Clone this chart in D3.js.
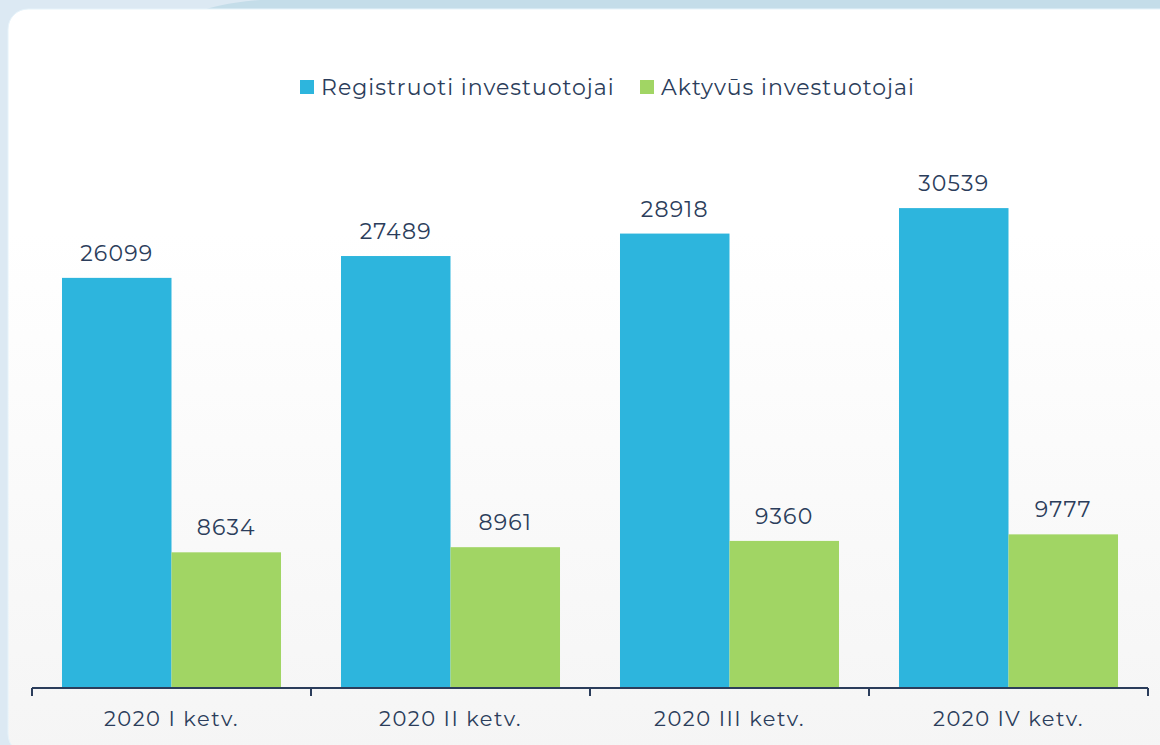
<!DOCTYPE html>
<html><head><meta charset="utf-8">
<script src="https://cdn.jsdelivr.net/npm/d3@7"></script>
<style>
html,body{margin:0;padding:0;background:#dce9f3;}
svg{display:block;font-family:Montserrat,"Open Sans",Lato,sans-serif;}
</style></head><body>
<svg id="chart" width="1160" height="745"></svg>
<script>
const categories = ["2020 I ketv.", "2020 II ketv.", "2020 III ketv.", "2020 IV ketv."];
const seriesNames = ["Registruoti investuotojai", "Aktyvūs investuotojai"];
const registered = [26099, 27489, 28918, 30539];
const active = [8634, 8961, 9360, 9777];
const colors = ["#2db5dd", "#a1d564"];

const svg = d3.select("#chart");
const W = 1160, H = 745;
const defs = svg.append("defs");
const g1 = defs.append("linearGradient").attr("id","card").attr("x1",0).attr("y1",0).attr("x2",0).attr("y2",1);
g1.append("stop").attr("offset","0%").attr("stop-color","#ffffff");
g1.append("stop").attr("offset","30%").attr("stop-color","#ffffff");
g1.append("stop").attr("offset","100%").attr("stop-color","#f5f5f5");

// background
svg.append("rect").attr("width",W).attr("height",H).attr("fill","#dce9f3");
svg.append("path").attr("d","M215,0 L1160,0 L1160,12 L200,12 Q215,4 260,0 Z").attr("fill","#c4dde9");
svg.append("rect").attr("x",8).attr("y",9).attr("width",1180).attr("height",745).attr("rx",20)
  .attr("fill","url(#card)").attr("stroke","#e6f3fa").attr("stroke-width",1);

const x0 = d3.scaleBand().domain(categories).range([32,1148]).paddingInner(0.215).paddingOuter(0.1075);
const xb = d3.scaleBand().domain(categories).range([32,1148]).padding(0);
const x1 = d3.scaleBand().domain(seriesNames).range([0, x0.bandwidth()]);
const y = d3.scaleLinear().domain([0,35000]).range([688,138]);

const data = categories.map((c,i)=>({cat:c, vals:[registered[i], active[i]]}));

const groups = svg.append("g").selectAll("g").data(data).join("g")
  .attr("transform", d=>`translate(${x0(d.cat)},0)`);
groups.selectAll("rect").data(d=>d.vals.map((v,j)=>({name:seriesNames[j], v, j}))).join("rect")
  .attr("x", d=>x1(d.name)).attr("width", x1.bandwidth())
  .attr("y", d=>y(d.v)).attr("height", d=>y(0)-y(d.v))
  .attr("fill", d=>colors[d.j]);
groups.selectAll("text").data(d=>d.vals.map((v,j)=>({name:seriesNames[j], v, j}))).join("text")
  .attr("x", d=>x1(d.name)+x1.bandwidth()/2).attr("y", d=>y(d.v)-17)
  .attr("text-anchor","middle").attr("fill","#2b3d5b").attr("font-size","22px")
  .attr("letter-spacing","1.2px")
  .text(d=>d.v);

// axis
const axisG = svg.append("g").attr("transform","translate(0,688)");
axisG.call(d3.axisBottom(xb).tickSize(0).tickPadding(23))
  .call(g=>g.select(".domain").remove());
axisG.selectAll(".tick text").attr("fill","#2b3d5b").attr("font-size","21px")
  .attr("letter-spacing","1.5px")
  .attr("font-family","Montserrat,'Open Sans',Lato,sans-serif");
axisG.append("line").attr("x1",32).attr("x2",1148).attr("y1",0).attr("y2",0)
  .attr("stroke","#2b3d5b").attr("stroke-width",2);
const edges = categories.map(c=>xb(c)).concat([xb(categories[categories.length-1])+xb.bandwidth()]);
axisG.selectAll("line.edge").data(edges).join("line").attr("class","edge")
  .attr("x1",d=>d).attr("x2",d=>d).attr("y1",0).attr("y2",8)
  .attr("stroke","#2b3d5b").attr("stroke-width",2);

// legend
const legend = svg.append("g").attr("transform","translate(0,87)");
const lx = [300, 640];
seriesNames.forEach((n,i)=>{
  legend.append("rect").attr("x",lx[i]).attr("y",-7).attr("width",14).attr("height",14).attr("fill",colors[i]);
  legend.append("text").attr("x",lx[i]+21).attr("y",8).attr("fill","#2b3d5b").attr("font-size","22px")
    .attr("letter-spacing","1px").text(n);
});
</script>
</body></html>
